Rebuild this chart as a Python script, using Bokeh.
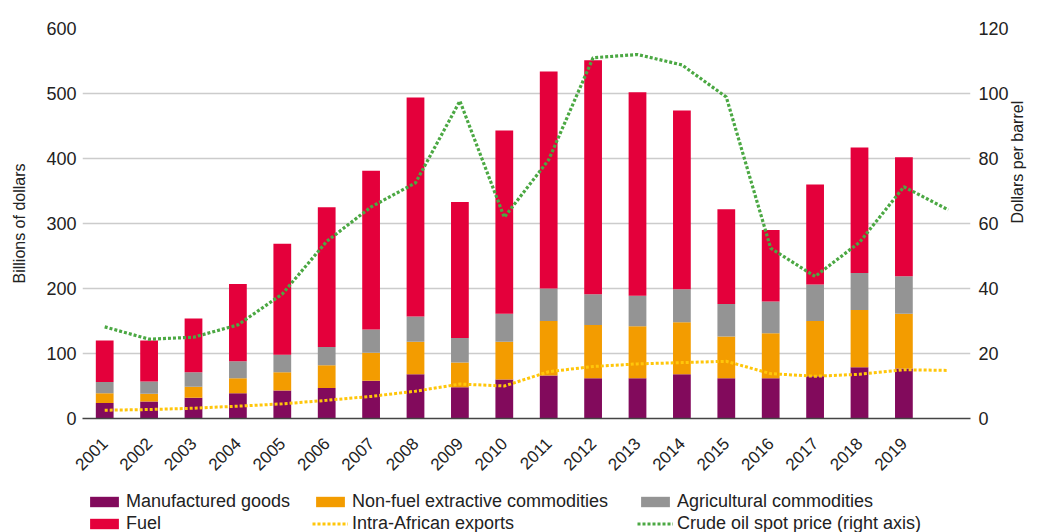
import math
from bokeh.plotting import figure
from bokeh.layouts import column
from bokeh.models import (FactorRange, Range1d, LinearAxis, Legend, LegendItem,
                          ColumnDataSource, FixedTicker, CustomJSTickFormatter)
from bokeh.embed import file_html
from bokeh.resources import INLINE

# ---- data ----
years = ["2001", "2002", "2003", "2004", "2005", "2006", "2007", "2008", "2009", "2010",
         "2011", "2012", "2013", "2014", "2015", "2016", "2017", "2018", "2019", "2020"]
bar_years = years[:19]

manufactured = [24, 26, 32, 39, 43, 47, 58, 68, 48, 60, 66, 62, 62, 68, 62, 62, 65, 79, 77]
nonfuel = [15, 12, 17, 23, 28, 35, 43, 50, 38, 58, 84, 82, 80, 80, 64, 69, 85, 88, 84]
agricultural = [17, 19, 22, 26, 27, 28, 36, 39, 38, 43, 50, 47, 47, 51, 50, 49, 56, 57, 58]
fuel_total = [120, 120, 154, 207, 269, 325, 381, 494, 333, 443, 534, 551, 502, 474, 322, 290, 360, 417, 402]
fuel = [t - m - n - a for t, m, n, a in zip(fuel_total, manufactured, nonfuel, agricultural)]

intra_african = [12.7, 13.8, 15.8, 19, 22.5, 28, 34, 42, 53, 50, 72, 80, 84, 86, 88, 69, 65, 68, 75, 74]
crude_oil = [28.2, 24.4, 25, 28.8, 38.3, 54.5, 65.1, 72.5, 97.7, 61.9, 79.6, 111, 112, 108.8, 98.9,
             52.4, 43.7, 54.2, 71.3, 64.2]

left_ticks = [0, 100, 200, 300, 400, 500, 600]
right_ticks = [0, 20, 40, 60, 80, 100, 120]

series_names = ["Manufactured goods", "Non-fuel extractive commodities", "Agricultural commodities",
                "Fuel", "Intra-African exports", "Crude oil spot price (right axis)"]

C_MAN = "#820a5c"
C_NONFUEL = "#f39c00"
C_AGRI = "#949494"
C_FUEL = "#e4003b"
C_INTRA = "#ffc60a"
C_OIL = "#4ba843"

FONT = "Liberation Sans"
W = 1037

xr = FactorRange(*years, range_padding=0)
p = figure(x_range=xr, y_range=Range1d(0, 600),
           width=W, height=478, output_backend="svg", toolbar_location=None,
           min_border_left=82, min_border_right=62, min_border_top=28, min_border_bottom=59)
p.outline_line_color = None
p.background_fill_color = "white"
p.border_fill_color = "white"
p.extra_y_ranges = {"oil": Range1d(0, 120)}

bar_src = ColumnDataSource(dict(year=bar_years, man=manufactured, nonfuel=nonfuel,
                                agri=agricultural, fuel=fuel))
stack = ["man", "nonfuel", "agri", "fuel"]
colors = [C_MAN, C_NONFUEL, C_AGRI, C_FUEL]
p.vbar_stack(stack, x="year", width=0.4, color=colors, line_color=None, source=bar_src)

line_src = ColumnDataSource(dict(year=years, intra=intra_african, oil=crude_oil))
p.line("year", "intra", source=line_src, line_color=C_INTRA, line_width=3, line_dash="3 2")
p.line("year", "oil", source=line_src, line_color=C_OIL, line_width=3.2, line_dash="3 2",
       y_range_name="oil")

# axes
p.xaxis.major_label_orientation = math.pi / 4
p.xaxis.formatter = CustomJSTickFormatter(code="return tick == '2020' ? '' : tick;")
p.xaxis.major_tick_line_color = None
p.xaxis.minor_tick_line_color = None
p.xaxis.major_tick_out = 0
p.xaxis.major_tick_in = 0
p.xaxis.axis_line_color = "#444444"
p.xaxis.axis_line_width = 1.5
p.xaxis.major_label_text_font = FONT
p.xaxis.major_label_text_font_size = "17px"
p.xaxis.major_label_text_color = "#222222"
p.xaxis.major_label_standoff = 22
p.xgrid.grid_line_color = None

yl = p.yaxis[0]
yl.ticker = FixedTicker(ticks=left_ticks)
yl.axis_line_color = None
yl.major_tick_line_color = None
yl.minor_tick_line_color = None
yl.major_tick_out = 0
yl.major_tick_in = 0
yl.major_label_text_font = FONT
yl.major_label_text_font_size = "18px"
yl.major_label_text_color = "#222222"
yl.major_label_standoff = 6
yl.axis_label = "Billions of dollars"
yl.axis_label_text_font = FONT
yl.axis_label_text_font_style = "normal"
yl.axis_label_text_font_size = "16px"
yl.axis_label_text_color = "#222222"
yl.axis_label_standoff = 15

yr = LinearAxis(y_range_name="oil", ticker=FixedTicker(ticks=right_ticks))
yr.axis_line_color = None
yr.major_tick_line_color = None
yr.minor_tick_line_color = None
yr.major_tick_out = 0
yr.major_tick_in = 0
yr.major_label_text_font = FONT
yr.major_label_text_font_size = "18px"
yr.major_label_text_color = "#222222"
yr.major_label_standoff = 8
yr.axis_label = "Dollars per barrel"
yr.axis_label_text_font = FONT
yr.axis_label_text_font_style = "normal"
yr.axis_label_text_font_size = "16px"
yr.axis_label_text_color = "#222222"
yr.axis_label_standoff = 6
yr.axis_label_orientation = math.pi / 2
p.add_layout(yr, "right")

p.ygrid.ticker = FixedTicker(ticks=[100, 200, 300, 400, 500, 600])
p.ygrid.grid_line_color = "#cccccc"
p.ygrid.grid_line_width = 1.5

# ---- legend strip (separate figure below the chart; its own glyphs lie outside its view) ----
lg = figure(width=W, height=54, output_backend="svg", toolbar_location=None,
            x_range=xr, y_range=Range1d(1000, 1001),
            min_border_left=0, min_border_right=0, min_border_top=0, min_border_bottom=0)
lg.axis.visible = False
lg.grid.visible = False
lg.outline_line_color = None
lg.border_fill_color = "white"

lr = list(lg.vbar_stack(stack, x="year", width=0.4, color=colors, line_color=None, source=bar_src))
lr.append(lg.line("year", "intra", source=line_src, line_color=C_INTRA, line_width=3,
                  line_dash="3 2"))
lr.append(lg.line("year", "oil", source=line_src, line_color=C_OIL, line_width=3.2,
                  line_dash="3 2"))

columns_idx = [(0, 3), (1, 4), (2, 5)]
col_x = [4, 230, 555]
for (a, b), x0 in zip(columns_idx, col_x):
    leg = Legend(items=[LegendItem(label=series_names[a], renderers=[lr[a]]),
                        LegendItem(label=series_names[b], renderers=[lr[b]])],
                 orientation="vertical", location=(x0, -2))
    leg.label_text_font = FONT
    leg.label_text_font_size = "18px"
    leg.label_text_color = "#222222"
    leg.glyph_width = 36
    leg.glyph_height = 13
    leg.label_standoff = 4
    leg.spacing = 1
    leg.padding = 0
    leg.margin = 0
    leg.label_height = 18
    leg.border_line_color = None
    leg.background_fill_alpha = 0
    lg.add_layout(leg, "center")

layout = column(p, lg, spacing=0)
open("out.html", "w").write(file_html(layout, INLINE))
